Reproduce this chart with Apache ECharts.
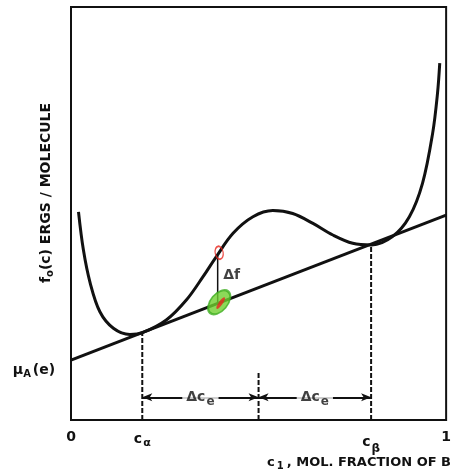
<!DOCTYPE html>
<html>
<head>
<meta charset="utf-8">
<script src="https://cdn.jsdelivr.net/npm/echarts@6/dist/echarts.min.js"></script>
<style>
  html, body { margin: 0; padding: 0; background: #fff; }
  #chart { width: 454px; height: 475px; }
</style>
</head>
<body>
<div id="chart"></div>
<script>
// free energy curve f0(c) (x = mole fraction, y = relative units)
var curveX = [0.020, 0.033, 0.051, 0.077, 0.113, 0.157, 0.192, 0.254, 0.308, 0.352, 0.387, 0.432, 0.485,
              0.538, 0.591, 0.645, 0.698, 0.751, 0.802, 0.857, 0.902, 0.937, 0.964, 0.977, 0.983];
var curveY = [0.504, 0.412, 0.332, 0.262, 0.222, 0.207, 0.212, 0.242, 0.291, 0.347, 0.395, 0.452, 0.492,
              0.507, 0.500, 0.476, 0.448, 0.428, 0.424, 0.444, 0.492, 0.573, 0.694, 0.791, 0.864];

// common tangent
var tangentX = [0, 1];
var tangentY = [0.145, 0.496];

var cAlpha = 0.19, cBeta = 0.80, cMid = 0.50;
var fAlpha = 0.212, fBeta = 0.424, midTop = 0.117;
var arrowY = 0.055;
var dfX = 0.391, dfTop = 0.397, dfBottom = 0.282;

var tickValues = [0, cAlpha, cBeta, 1];
var tickLabels = ['0', 'c{sub|α}', 'c{sub2|β}', '1'];

function pairs(xs, ys) {
  return xs.map(function (x, i) { return [x, ys[i]]; });
}

var black = '#111';
var font = 'DejaVu Sans';

var myChart = echarts.init(document.getElementById('chart'));

var dashed = { color: black, width: 2, type: [5, 2] };

var option = {
  animation: false,
  backgroundColor: '#fff',
  grid: { left: 71, right: 7, top: 7, bottom: 55, show: true, borderColor: black, borderWidth: 2 },
  xAxis: {
    type: 'value', min: 0, max: 1,
    axisLine: { show: false }, axisTick: { show: false }, splitLine: { show: false },
    axisLabel: {
      customValues: tickValues,
      margin: 10,
      color: black, fontFamily: font, fontWeight: 'bold', fontSize: 14,
      formatter: function (v) {
        for (var i = 0; i < tickValues.length; i++) if (Math.abs(v - tickValues[i]) < 1e-6) return tickLabels[i];
        return '';
      },
      rich: {
        sub: { fontSize: 11, fontWeight: 'bold', fontFamily: font, color: black, verticalAlign: 'bottom', padding: [8, 0, 0, 1] },
        sub2: { fontSize: 12, fontWeight: 'bold', fontFamily: font, color: black, verticalAlign: 'bottom', padding: [13, 0, 0, 1] }
      }
    }
  },
  yAxis: {
    type: 'value', min: 0, max: 1,
    axisLine: { show: false }, axisTick: { show: false }, splitLine: { show: false }, axisLabel: { show: false }
  },
  graphic: [
    {
      type: 'text', x: 46, y: 193, rotation: Math.PI / 2,
      style: {
        text: 'f{sub|o}(c) ERGS / MOLECULE',
        fill: black, font: 'bold 14px "DejaVu Sans"', align: 'center', verticalAlign: 'middle',
        rich: { sub: { fontSize: 10, fontWeight: 'bold', fontFamily: font, fill: black, padding: [8, 0, 0, 0] } }
      }
    },
    {
      type: 'text', x: 34, y: 370,
      style: {
        text: 'μ{sub|A}(e)',
        fill: black, font: 'bold 14px "DejaVu Sans"', align: 'center', verticalAlign: 'middle',
        rich: { sub: { fontSize: 10, fontWeight: 'bold', fontFamily: font, fill: black, padding: [8, 2, 0, 0] } }
      }
    },
    {
      type: 'text', x: 451, y: 463,
      style: {
        text: 'c{sub|1}, MOL. FRACTION OF B',
        fill: black, font: 'bold 13px "DejaVu Sans"', align: 'right', verticalAlign: 'middle',
        rich: { sub: { fontSize: 10, fontWeight: 'bold', fontFamily: font, fill: black, padding: [6, 3, 0, 2] } }
      }
    }
  ],
  series: [
    {
      name: 'f0', type: 'line', smooth: 0.35, showSymbol: false,
      lineStyle: { color: black, width: 3 },
      data: pairs(curveX, curveY), z: 3
    },
    {
      name: 'tangent', type: 'line', showSymbol: false,
      lineStyle: { color: black, width: 3 },
      data: pairs(tangentX, tangentY), z: 3
    },
    { type: 'line', showSymbol: false, lineStyle: dashed, data: [[cAlpha, 0], [cAlpha, fAlpha]] },
    { type: 'line', showSymbol: false, lineStyle: dashed, data: [[cBeta, 0], [cBeta, fBeta]] },
    { type: 'line', showSymbol: false, lineStyle: dashed, data: [[cMid, 0], [cMid, midTop]] },
    {
      type: 'line', showSymbol: false, lineStyle: { color: black, width: 1.5 },
      data: [[dfX, dfTop], [dfX, dfBottom]]
    },
    {
      type: 'line', showSymbol: false, lineStyle: { width: 0 }, data: [],
      markLine: {
        silent: true, symbol: ['arrow', 'arrow'], symbolSize: [6, 10],
        lineStyle: { color: black, width: 2, type: 'solid' },
        label: { show: false },
        data: [
          [{ coord: [cAlpha, arrowY] }, { coord: [cMid, arrowY] }],
          [{ coord: [cMid, arrowY] }, { coord: [cBeta, arrowY] }]
        ]
      }
    },
    {
      type: 'scatter', symbolSize: 1, itemStyle: { color: 'transparent' }, z: 5,
      label: {
        show: true, position: 'inside', formatter: 'Δc{sub|e}',
        backgroundColor: '#fff', padding: [0, 4, 0, 4],
        color: black, fontFamily: font, fontWeight: 'bold', fontSize: 14,
        rich: { sub: { fontSize: 12, fontWeight: 'bold', fontFamily: font, color: black, padding: [9, 0, 0, 1] } }
      },
      data: [[(cAlpha + cMid) / 2, arrowY], [(cMid + cBeta) / 2, arrowY]]
    },
    {
      type: 'scatter', symbolSize: 1, itemStyle: { color: 'transparent' }, z: 5,
      label: {
        show: true, position: 'right', distance: 5, formatter: 'Δf',
        color: black, fontFamily: font, fontWeight: 'bold', fontSize: 14
      },
      data: [[dfX, (dfTop + dfBottom) / 2 + 0.01]]
    },
    {
      // hand-drawn marks on the scan
      type: 'scatter', z: 6,
      data: [
        { value: [dfX + 0.004, 0.285], symbol: 'circle', symbolSize: [17, 28], symbolRotate: -40,
          itemStyle: { color: '#6fcf2f', borderColor: '#3fae22', borderWidth: 2 } },
        { value: [dfX + 0.008, 0.283], symbol: 'circle', symbolSize: [4, 14], symbolRotate: -35,
          itemStyle: { color: '#e8261e' } },
        { value: [dfX + 0.004, 0.405], symbol: 'circle', symbolSize: [8, 13], symbolRotate: 10,
          itemStyle: { color: 'transparent', borderColor: '#e8261e', borderWidth: 1.5 } }
      ]
    }
  ]
};

myChart.setOption(option);
</script>
</body>
</html>
